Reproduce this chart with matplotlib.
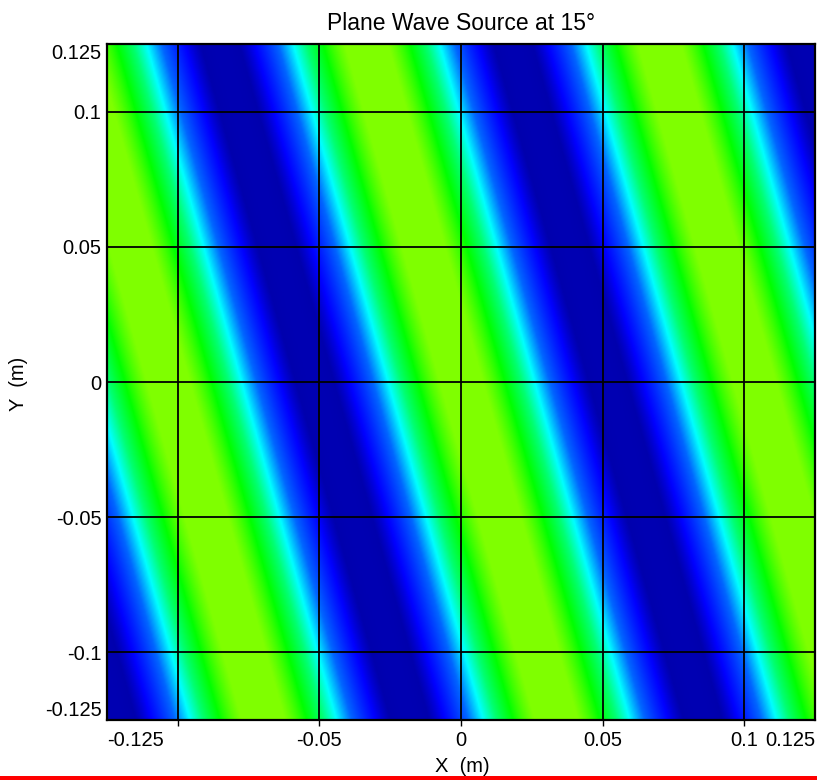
import matplotlib
matplotlib.use("Agg")
import matplotlib.pyplot as plt
import numpy as np
from matplotlib.colors import LinearSegmentedColormap
from matplotlib.patches import Rectangle

plt.rcParams['font.family'] = ['Liberation Sans', 'DejaVu Sans']

# Plane wave parameters
angle_deg = 15.0          # propagation angle from the x axis
wavelength = 0.1          # m
x_limits = [-0.125, 0.125]
y_limits = [-0.125, 0.125]

x_ticks = [-0.125, -0.1, -0.05, 0, 0.05, 0.1, 0.125]
x_labels = ['-0.125', '', '-0.05', '0', '0.05', '0.1', '0.125']
y_ticks = [-0.125, -0.1, -0.05, 0, 0.05, 0.1, 0.125]
y_labels = ['-0.125', '-0.1', '-0.05', '0', '0.05', '0.1', '0.125']

# Field on a grid
x = np.linspace(x_limits[0], x_limits[1], 600)
y = np.linspace(y_limits[0], y_limits[1], 600)
X, Y = np.meshgrid(x, y)
k = 2 * np.pi / wavelength
theta = np.deg2rad(angle_deg)
field = np.cos(k * (X * np.cos(theta) + Y * np.sin(theta)))

# Colour map: navy -> blue -> cyan -> green -> chartreuse
cmap = LinearSegmentedColormap.from_list('wave', [
    (0.00, (0.0, 0.0, 0.70)),
    (0.04, (0.0, 0.0, 0.68)),
    (0.13, (0.0, 0.0, 1.00)),
    (0.34, (0.0, 0.40, 1.00)),
    (0.50, (0.0, 1.0, 1.00)),
    (0.64, (0.0, 1.0, 0.45)),
    (0.80, (0.0, 1.0, 0.00)),
    (0.95, (0.5, 1.0, 0.00)),
    (1.00, (0.5, 1.0, 0.00)),
])

fig = plt.figure(figsize=(8.17, 7.8), dpi=100)
ax = fig.add_axes([107 / 817, 60 / 780, 708 / 817, 676 / 780])

ax.imshow(field, extent=[x_limits[0], x_limits[1], y_limits[0], y_limits[1]],
          origin='lower', cmap=cmap, vmin=-1, vmax=1, aspect='auto',
          interpolation='bilinear')

ax.set_xlim(x_limits)
ax.set_ylim(y_limits)

ax.set_xticks(x_ticks, x_labels)
ax.set_yticks(y_ticks, y_labels)
ax.tick_params(axis='x', direction='out', length=4, width=1, pad=4,
               labelsize=14.5, color='black')
ax.tick_params(axis='y', length=0, pad=4, labelsize=14.5)

xl = ax.get_xticklabels()
xl[0].set_ha('left')
xl[-1].set_ha('right')
yl = ax.get_yticklabels()
yl[0].set_va('bottom')
yl[-1].set_va('top')
for t in (ax.xaxis.get_major_ticks()[0], ax.xaxis.get_major_ticks()[-1]):
    t.tick1line.set_visible(False)

ax.grid(True, color='black', linewidth=1.3, linestyle='-')
for s in ax.spines.values():
    s.set_linewidth(1.6)
    s.set_color('black')

ax.set_title('Plane Wave Source at 15°', fontsize=16.5, pad=10)
fig.text(462 / 817, 1 - 766 / 780, 'X  (m)', ha='center', va='center', fontsize=14.5)
fig.text(18 / 817, 1 - 384 / 780, 'Y  (m)', ha='center', va='center',
         rotation=90, fontsize=14.5)

# red line along the bottom edge
fig.add_artist(Rectangle((0, 0), 1, 4 / 780, transform=fig.transFigure,
                         color='red', linewidth=0))

fig.savefig('out.png', dpi=100)
